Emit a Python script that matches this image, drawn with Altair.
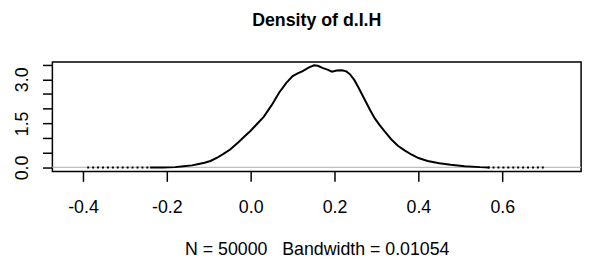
import altair as alt
import pandas as pd

# density curve
dens_x = [-0.24, -0.21, -0.18, -0.16, -0.14, -0.127, -0.11, -0.096, -0.08, -0.065,
          -0.049, -0.03, -0.015, 0.0, 0.015, 0.031, 0.05, 0.068, 0.085, 0.1,
          0.112, 0.124, 0.138, 0.151, 0.16, 0.171, 0.183, 0.194, 0.205, 0.218,
          0.228, 0.237, 0.247, 0.257, 0.273, 0.285, 0.296, 0.308, 0.32, 0.335,
          0.351, 0.367, 0.383, 0.40, 0.422, 0.45, 0.477, 0.51, 0.547, 0.57]
dens_y = [0.0, 0.0, 0.01, 0.04, 0.07, 0.11, 0.16, 0.22, 0.33, 0.46,
          0.61, 0.85, 1.05, 1.25, 1.48, 1.72, 2.12, 2.55, 2.88, 3.11,
          3.2, 3.28, 3.4, 3.48, 3.46, 3.39, 3.33, 3.26, 3.3, 3.31,
          3.27, 3.17, 2.98, 2.72, 2.28, 1.95, 1.67, 1.43, 1.22, 0.96,
          0.74, 0.58, 0.44, 0.32, 0.22, 0.14, 0.09, 0.04, 0.01, 0.0]

# sparse tails (near-zero density)
tail_x = [-0.39, -0.24, 0.565, 0.70]
tail_y = [0.0, 0.0, 0.0, 0.0]
tail_seg = ["left", "left", "right", "right"]

x_ticks = [-0.4, -0.2, 0.0, 0.2, 0.4, 0.6]
y_ticks = [0.0, 0.5, 1.0, 1.5, 2.0, 2.5, 3.0, 3.5]
x_domain = [-0.473, 0.788]
y_domain = [-0.138, 3.59]

title_text = "Density of d.I.H"
x_title = "N = 50000\u00a0\u00a0 Bandwidth = 0.01054"

FONT = "Liberation Sans"

main = pd.DataFrame({"x": dens_x, "y": dens_y})
tails = pd.DataFrame({"x": tail_x, "y": tail_y, "seg": tail_seg})

xs = alt.Scale(domain=x_domain, nice=False, zero=False)
ys = alt.Scale(domain=y_domain, nice=False, zero=False)

x_axis = alt.Axis(
    values=x_ticks, title=x_title, domain=False, grid=False,
    tickSize=10, tickColor="black", tickWidth=1.5,
    labelFont=FONT, labelFontSize=18, labelColor="black", labelPadding=18,
    labelExpr="replace(format(datum.value, '.1f'), '\u2212', '-')",
    titleFont=FONT, titleFontSize=18, titleFontWeight="normal", titleColor="black",
    titleY=79, titleBaseline="middle",
)
y_axis = alt.Axis(
    values=y_ticks, title=None, domain=False, grid=False,
    tickSize=10, tickColor="black", tickWidth=1.5,
    labelFont=FONT, labelFontSize=18, labelColor="black", labelOverlap=False,
    labelAngle=-90, labelAlign="center", labelBaseline="alphabetic", labelPadding=15,
    labelExpr="datum.value % 1.5 == 0 ? replace(format(datum.value, '.1f'), '\u2212', '-') : ''",
)

base_rule = alt.Chart(pd.DataFrame({"y": [0.0]})).mark_rule(
    color="#bebebe", strokeWidth=1.2
).encode(y=alt.Y("y:Q", scale=ys, axis=y_axis))

tail_line = alt.Chart(tails).mark_line(
    color="black", strokeWidth=2, strokeDash=[2, 3]
).encode(
    x=alt.X("x:Q", scale=xs, axis=x_axis),
    y=alt.Y("y:Q", scale=ys, axis=y_axis),
    detail="seg:N",
)

curve = alt.Chart(main).mark_line(color="black", strokeWidth=2).encode(
    x=alt.X("x:Q", scale=xs, axis=x_axis),
    y=alt.Y("y:Q", scale=ys, axis=y_axis),
)

chart = alt.layer(base_rule, tail_line, curve).properties(
    width=536,
    height=111,
    background="white",
    autosize=alt.AutoSizeParams(type="none"),
    padding={"left": 45, "top": 53, "right": 7, "bottom": 88},
    title=alt.TitleParams(
        text=title_text, font=FONT, fontSize=18, fontWeight="bold",
        color="black", anchor="middle", frame="group",
        baseline="alphabetic", offset=18,
    ),
).configure_view(stroke="black", strokeWidth=1.5)

chart.save("out.html", embed_options={"renderer": "svg", "actions": False})
